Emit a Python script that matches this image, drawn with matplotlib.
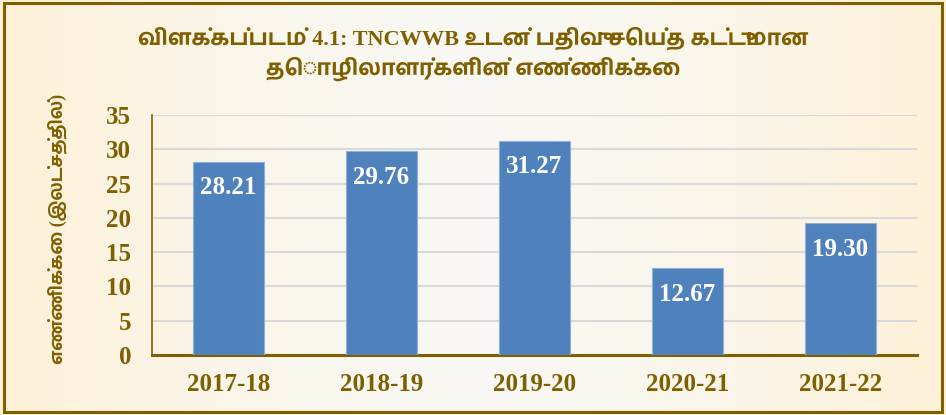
import numpy as np
import matplotlib.pyplot as plt

years = ['2017-18', '2018-19', '2019-20', '2020-21', '2021-22']
workers = [28.21, 29.76, 31.27, 12.67, 19.30]
yticks = [0, 5, 10, 15, 20, 25, 30, 35]

title = 'விளக்கப்படம் 4.1: TNCWWB உடன் பதிவு செய்த கட்டுமான\nதொழிலாளர்களின் எண்ணிக்கை'
ylabel = 'எண்ணிக்கை (இலட்சத்தில்)'

brown = '#7F6000'
fonts = ['Liberation Serif', 'Hind Madurai', 'DejaVu Sans']
plt.rcParams['font.family'] = fonts

fig = plt.figure(figsize=(9.46, 4.15), dpi=100)

# cream background, lighter in the middle
bg = fig.add_axes([0, 0, 1, 1], zorder=-10)
gx = np.linspace(-1, 1, 300)
shade = np.abs(gx) ** 1.5
c1 = np.array([0.975, 0.972, 0.955])
c2 = np.array([0.995, 0.945, 0.845])
img = c1[None, :] + shade[:, None] * (c2 - c1)[None, :]
bg.imshow(img[None, :, :], aspect='auto', extent=[0, 1, 0, 1])
bg.set_xlim(0, 1)
bg.set_ylim(0, 1)
bg.axis('off')
bg.add_patch(plt.Rectangle((0.004, 0.007), 0.992, 0.986, fill=False,
                           edgecolor=brown, linewidth=2.2))

ax = fig.add_axes([0.1607, 0.1446, 0.8086, 0.5783])
ax.set_facecolor('none')
x = np.arange(len(years))
bars = ax.bar(x, workers, width=0.46, color='#4F81BD', edgecolor='#8FB0D8',
              linewidth=0.8, zorder=3)
for xi, v in zip(x, workers):
    ax.annotate(f'{v:.2f}', (xi, v), xytext=(0, -19), textcoords='offset points',
                ha='center', va='center', color='white', fontsize=18,
                fontweight='bold', zorder=4)

ax.set_ylim(0, 35)
ax.set_xlim(-0.5, 4.5)
ax.set_yticks(yticks)
ax.set_xticks(x)
ax.set_xticklabels(years)
ax.grid(axis='y', color='#D9D9D9', linewidth=1.5, zorder=0)
ax.tick_params(length=0, labelsize=18, labelcolor=brown)
ax.tick_params(axis='y', pad=15)
ax.tick_params(axis='x', pad=13)
for lab in ax.get_xticklabels() + ax.get_yticklabels():
    lab.set_fontweight('bold')
for s in ['top', 'right']:
    ax.spines[s].set_visible(False)
ax.spines['left'].set_color(brown)
ax.spines['left'].set_linewidth(1.2)
ax.spines['bottom'].set_color(brown)
ax.spines['bottom'].set_linewidth(2.2)

fig.text(0.5, 0.87, title, ha='center', va='center', fontsize=16,
         fontweight='bold', color=brown, linespacing=1.35)
fig.text(0.060, 0.448, ylabel, ha='center', va='center', rotation=90,
         fontsize=13, fontweight='bold', color=brown)

fig.savefig('out.png', dpi=100)
